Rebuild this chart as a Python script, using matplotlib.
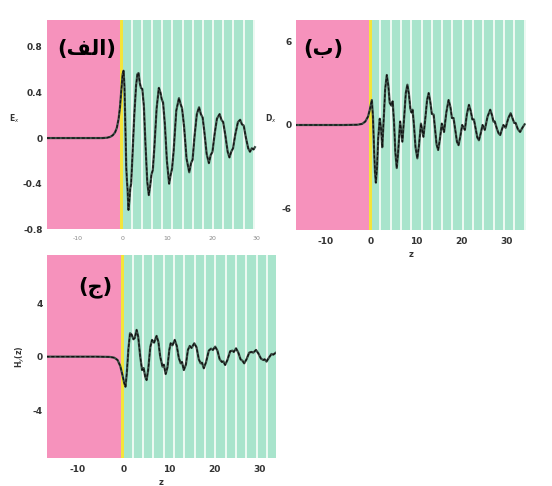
import matplotlib
matplotlib.use("Agg")
import matplotlib.pyplot as plt

# ---------------- data ----------------
# panel (a): field E_x
z_a = [-17.0, -8.0, -4.5, -3.5, -2.8, -2.2, -1.7, -1.3, -0.9, -0.6, -0.3, 0.0, 0.2, 0.4, 0.6, 0.8,
       0.95, 1.1, 1.3, 1.5, 1.7, 1.9, 2.2, 2.6, 3.0, 3.3, 3.55, 3.85, 4.1, 4.4, 4.75, 5.1,
       5.5, 5.85, 6.15, 6.45, 6.75, 7.1, 7.6, 8.1, 8.45, 8.75, 9.05, 9.45, 9.9, 10.4,
       10.75, 11.05, 11.4, 12.0, 12.6, 12.95, 13.3, 13.75, 14.3, 14.9, 15.3, 15.65, 16.1, 16.6,
       17.1, 17.5, 17.9, 18.3, 18.8, 19.3, 19.7, 20.1, 20.6, 21.1, 21.7, 22.1, 22.5, 23.0,
       23.5, 23.9, 24.3, 24.7, 25.2, 25.8, 26.3, 26.7, 27.1, 27.6, 28.1, 28.5, 28.9, 29.3, 29.6]
e_a = [0.0, 0.0, 0.0, 0.003, 0.01, 0.025, 0.05, 0.09, 0.17, 0.27, 0.42, 0.56, 0.59, 0.46, 0.12, -0.25,
       -0.37, -0.45, -0.63, -0.55, -0.44, -0.40, -0.15, 0.20, 0.46, 0.56, 0.57, 0.48, 0.44, 0.43, 0.28, -0.05,
       -0.38, -0.50, -0.42, -0.32, -0.28, -0.08, 0.26, 0.44, 0.40, 0.34, 0.31, 0.12, -0.20, -0.40,
       -0.32, -0.27, -0.12, 0.24, 0.35, 0.30, 0.26, 0.10, -0.18, -0.30, -0.22, -0.19, 0.02, 0.21,
       0.27, 0.21, 0.18, 0.05, -0.14, -0.22, -0.15, -0.12, 0.04, 0.17, 0.21, 0.16, 0.14, 0.02,
       -0.12, -0.17, -0.12, -0.09, 0.03, 0.14, 0.16, 0.12, 0.11, 0.0, -0.09, -0.12, -0.09, -0.10, -0.08]

# panel (b): field D_x
z_b = [-17.0, -6.0, -3.0, -2.0, -1.3, -0.7, -0.3, 0.15, 0.4, 0.65, 0.85, 1.05, 1.3, 1.55, 1.9, 2.2,
       2.45, 2.8, 3.1, 3.45, 3.8, 4.1, 4.45, 4.75, 5.05, 5.35, 5.65, 5.95, 6.4, 6.9, 7.3, 7.65,
       8.0, 8.35, 8.65, 8.9, 9.15, 9.45, 9.8, 10.2, 10.55, 11.0, 11.55, 12.0, 12.35, 12.7, 13.05,
       13.4, 13.8, 14.15, 14.45, 14.8, 15.15, 15.6, 16.1, 16.6, 17.1, 17.5, 17.85, 18.2, 18.6,
       18.95, 19.3, 19.7, 20.1, 20.7, 21.15, 21.6, 22.0, 22.35, 22.7, 23.1, 23.45, 23.8, 24.2,
       24.6, 25.1, 25.7, 26.3, 26.7, 27.0, 27.3, 27.8, 28.15, 28.5, 28.9, 29.2, 29.7, 30.3,
       30.8, 31.2, 31.6, 31.9, 32.4, 32.9, 33.4, 33.9]
d_b = [0.0, 0.0, 0.02, 0.08, 0.25, 0.6, 1.1, 1.8, 0.6, -1.8, -3.4, -4.15, -3.0, -1.0, 0.45, -0.3,
       -1.6, 0.6, 2.6, 3.6, 2.8, 1.6, 1.4, 1.7, 0.2, -2.0, -3.1, -2.0, 0.25, -1.2, 0.6, 2.3,
       2.9, 2.2, 1.2, 0.9, 1.1, 0.0, -1.6, -2.4, -1.5, 0.1, -0.85, 0.6, 1.8, 2.3, 1.7,
       0.8, 0.75, -0.4, -1.4, -1.8, -1.1, 0.1, -0.5, 0.9, 1.8, 1.3, 0.5, 0.5, -0.4,
       -1.2, -1.45, -0.8, 0.0, -0.35, 0.8, 1.45, 1.0, 0.4, 0.4, -0.3, -0.9, -1.1, -0.6,
       0.0, -0.35, 0.6, 1.1, 0.7, 0.25, 0.25, -0.3, -0.6, -0.72, -0.3, 0.0, -0.2, 0.5,
       0.85, 0.5, 0.15, 0.15, -0.3, -0.5, -0.2, 0.05]

# panel (c): field H_y(z)
z_c = [-17.0, -6.0, -3.0, -2.0, -1.3, -0.7, -0.2, 0.2, 0.45, 0.75, 1.1, 1.45, 1.8, 2.2, 2.5, 2.9,
       3.25, 3.7, 4.1, 4.45, 4.8, 5.1, 5.45, 5.9, 6.3, 6.75, 7.3, 7.7, 8.1, 8.6, 8.9, 9.3,
       9.7, 10.1, 10.4, 10.8, 11.3, 11.75, 12.2, 12.6, 12.9, 13.3, 13.75, 14.2, 14.6, 15.0,
       15.6, 16.1, 16.6, 17.0, 17.3, 17.7, 18.2, 18.8, 19.3, 19.7, 20.2, 20.7, 21.2, 21.7,
       22.0, 22.4, 22.9, 23.5, 24.0, 24.3, 24.8, 25.3, 25.8, 26.2, 26.6, 27.1, 27.7, 28.2,
       28.6, 29.2, 29.7, 30.3, 30.8, 31.1, 31.5, 32.0, 32.6, 33.0, 33.5]
h_c = [0.0, 0.0, -0.02, -0.08, -0.25, -0.7, -1.4, -2.0, -2.25, -1.2, 0.6, 1.75, 1.65, 1.3, 1.4, 2.0,
       1.5, 0.0, -1.0, -0.85, -1.5, -1.75, -1.0, 0.7, 1.25, 1.05, 1.55, 1.1, 0.0, -0.75, -0.6, -1.3,
       -0.8, 0.5, 1.0, 0.85, 1.25, 0.8, -0.1, -0.5, -0.4, -1.0, -0.6, 0.5, 0.8, 0.65,
       1.0, 0.7, -0.2, -0.5, -0.45, -0.87, -0.4, 0.45, 0.6, 0.5, 0.75, 0.45, -0.2, -0.4,
       -0.35, -0.62, -0.25, 0.4, 0.45, 0.35, 0.62, 0.3, -0.2, -0.3, -0.5, -0.2, 0.3, 0.35,
       0.3, 0.5, 0.25, -0.15, -0.25, -0.2, -0.37, -0.1, 0.2, 0.15, 0.28]

# white layer stripes (centres) in the periodic region
stripe_z = [2.0, 4.28, 6.56, 8.84, 11.12, 13.4, 15.68, 17.96, 20.24, 22.52, 24.8, 27.08, 29.36, 31.64, 33.92]

x_ticks = [-10, 0, 10, 20, 30]
x_ticklabels = ["-10", "0", "10", "20", "30"]
yt_a = [-0.8, -0.4, 0, 0.4, 0.8]
ytl_a = ["-0.8", "-0.4", "0", "0.4", "0.8"]
yt_b = [-6, 0, 6]
ytl_b = ["-6", "0", "6"]
yt_c = [-4, 0, 4]
ytl_c = ["-4", "0", "4"]

# Arabic panel labels, pre-shaped (presentation forms, visual order)
lab_a = "(\ufed2\ufedf\ufe8d)"   # (الف)
lab_b = "(\ufe8f)"               # (ب)
lab_c = "(\ufe9d)"               # (ج)

PINK = "#F692BC"
GREEN = "#A8E4CC"
STRIPE = "#ECF9F2"
YELLOW = "#F4E43A"

W, H = 552, 486
fig = plt.figure(figsize=(W / 100, H / 100), dpi=100)
fig.patch.set_facecolor("white")


def add_ax(x0, y0, x1, y1):
    return fig.add_axes([x0 / W, 1 - y1 / H, (x1 - x0) / W, (y1 - y0) / H])


def panel(ax, z, v, xlim, ylim, yt, ytl, label, lab_xy, ylab, xlab=True, xtick_style=None, ylab_kw=None):
    ax.set_xlim(*xlim)
    ax.set_ylim(*ylim)
    ax.axvspan(xlim[0], 0, color=PINK, lw=0, zorder=0)
    ax.axvspan(0, xlim[1], color=GREEN, lw=0, zorder=0)
    for s in stripe_z:
        ax.axvspan(s - 0.22, s + 0.22, color=STRIPE, lw=0, zorder=0.5)
    ax.axvspan(-0.55, 0.1, color=YELLOW, lw=0, zorder=1)
    ax.plot(z, v, color="#3d4f47", lw=1.6, zorder=3, solid_joinstyle="round")
    ax.plot(z, v, color="#111111", lw=0.9, ls=(0, (2.5, 1.5)), zorder=4)
    for sp in ax.spines.values():
        sp.set_visible(False)
    ax.set_yticks(yt)
    ax.set_yticklabels(ytl, fontsize=6.5, fontweight="bold", color="#333333")
    ax.set_xticks(x_ticks)
    if xtick_style is None:
        ax.set_xticklabels(x_ticklabels, fontsize=6.5, fontweight="bold", color="#333333")
    else:
        ax.set_xticklabels(x_ticklabels, **xtick_style)
    ax.tick_params(length=0, pad=3)
    ax.tick_params(axis="x", pad=5)
    if xlab:
        ax.set_xlabel("z", fontsize=6, fontweight="bold", color="#333333", labelpad=3)
    ax.text(lab_xy[0], lab_xy[1], label, transform=ax.transAxes, fontsize=15,
            fontweight="bold", family="DejaVu Sans", ha="center", va="center", color="black", zorder=6)
    kw = dict(fontsize=5.5, fontweight="bold", color="#333333")
    if ylab_kw:
        kw.update(ylab_kw)
    ax.set_ylabel(ylab, **kw)


# panel (a)
ax_a = add_ax(46.7, 20, 256.7, 229.3)
panel(ax_a, z_a, e_a, (-17.0, 29.7), (-0.8, 1.035), yt_a, ytl_a, lab_a, (0.19, 0.86), "E$_x$",
      xlab=False, xtick_style=dict(fontsize=4.5, color="#888888"),
      ylab_kw=dict(rotation=0, labelpad=6))

# panel (b)
ax_b = add_ax(296, 20, 526, 230)
panel(ax_b, z_b, d_b, (-16.6, 34.2), (-7.56, 7.56), yt_b, ytl_b, lab_b, (0.12, 0.86), "D$_x$",
      ylab_kw=dict(rotation=0, labelpad=8))

# panel (c)
ax_c = add_ax(46.7, 255, 276, 458.3)
panel(ax_c, z_c, h_c, (-16.9, 33.6), (-7.6, 7.6), yt_c, ytl_c, lab_c, (0.21, 0.84), "H$_y$(z)",
      ylab_kw=dict(labelpad=4))

fig.savefig("out.png", dpi=100, facecolor="white")
